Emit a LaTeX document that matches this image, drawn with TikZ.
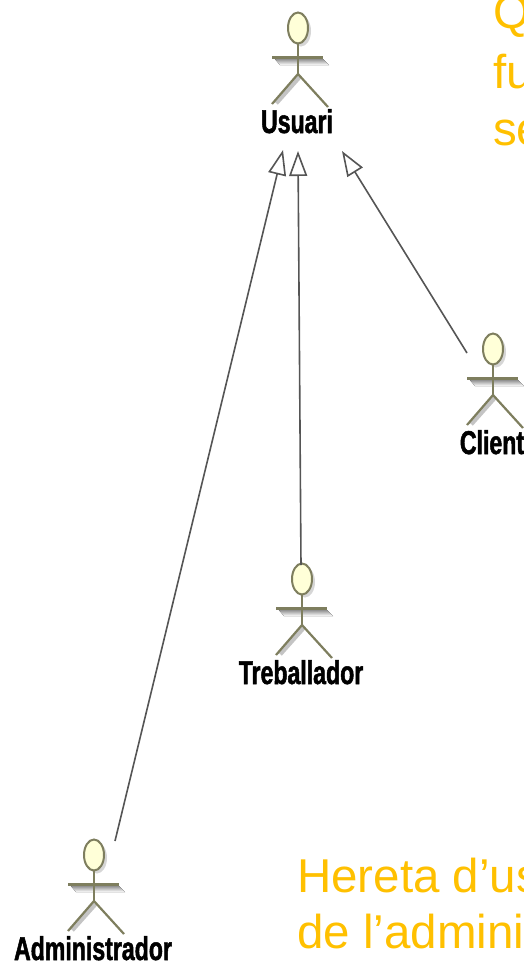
\documentclass[tikz,border=0pt]{standalone}
\usepackage{fontspec}
\setmainfont{Liberation Sans}
\newfontfamily\lblfont[FakeStretch=0.70,FakeBold=1.5]{Liberation Sans Bold}
\usetikzlibrary{arrows.meta,shapes.geometric}
\definecolor{limb}{HTML}{7E7E5E}
\definecolor{headfill}{HTML}{FFFFD8}
\definecolor{shade}{HTML}{C4C4C4}
\definecolor{note}{HTML}{FFC000}
\definecolor{wire}{HTML}{555555}
\tikzset{
  x=1pt,y=-1pt,
  head/.style={draw=limb,line width=2pt,fill=headfill,ellipse,minimum width=20pt,minimum height=31pt,inner sep=0pt},
  limbline/.style={draw=limb,line width=2.2pt},
  armline/.style={draw=limb,line width=3pt},
  shadeline/.style={draw=shade,line width=5pt},
  actorlabel/.style={font=\lblfont\fontsize{33}{33}\selectfont,text=black,inner sep=0pt,anchor=base},
  notetext/.style={font=\fontsize{47.5}{47.5}\selectfont,text=note,inner sep=0pt,anchor=base west},
  gen/.style={draw=wire,line width=1.6pt,-{Triangle[open,length=25pt,width=18pt,line width=1.6pt]},shorten >=0pt}
}
\newcommand{\umlactor}[4]{%
  \begin{scope}[shift={(#2,#3)}]
    \fill[shade] (-24,30) -- (24,30) -- (31,37) -- (-18,37) -- cycle;
    \draw[shadeline] (2,48) -- (-22,75);
    \fill[shade!70] (3,3) ellipse (10 and 15.5);
    \draw[armline] (-26,29) -- (25,29);
    \draw[limbline] (0,15) -- (0,46);
    \draw[limbline] (0,46) -- (-26,76);
    \draw[limbline] (0,46) -- (30,79);
    \node[head] (#1) at (0,0) {};
    \node[actorlabel] (#1label) at (-1,105) {#4};
  \end{scope}
}
\begin{document}
\begin{tikzpicture}
\useasboundingbox (0,0) rectangle (524,962);
\clip (0,0) rectangle (524,962);
\umlactor{usuari}{298}{28}{Usuari}
\umlactor{client}{493}{349}{Client}
\umlactor{treb}{302}{579}{Treballador}
\umlactor{admin}{94}{855}{Administrador}
\coordinate (tipA) at (283,150);
\coordinate (tipT) at (298,151);
\coordinate (tipC) at (342,151);
\coordinate (fromA) at (115,841);
\coordinate (fromT) at (301,565);
\coordinate (fromC) at (467,353);
\draw[gen] (fromA) -- (tipA);
\draw[gen] (fromT) -- (tipT);
\draw[gen] (fromC) -- (tipC);
\node[notetext] (n1) at (493,28) {Q};
\node[notetext] (n2) at (493,88) {fu};
\node[notetext] (n3) at (493,145) {se};
\node[notetext] (n4) at (297,892) {Hereta d’us};
\node[notetext] (n5) at (297,948) {de l’admini};
\end{tikzpicture}
\end{document}
